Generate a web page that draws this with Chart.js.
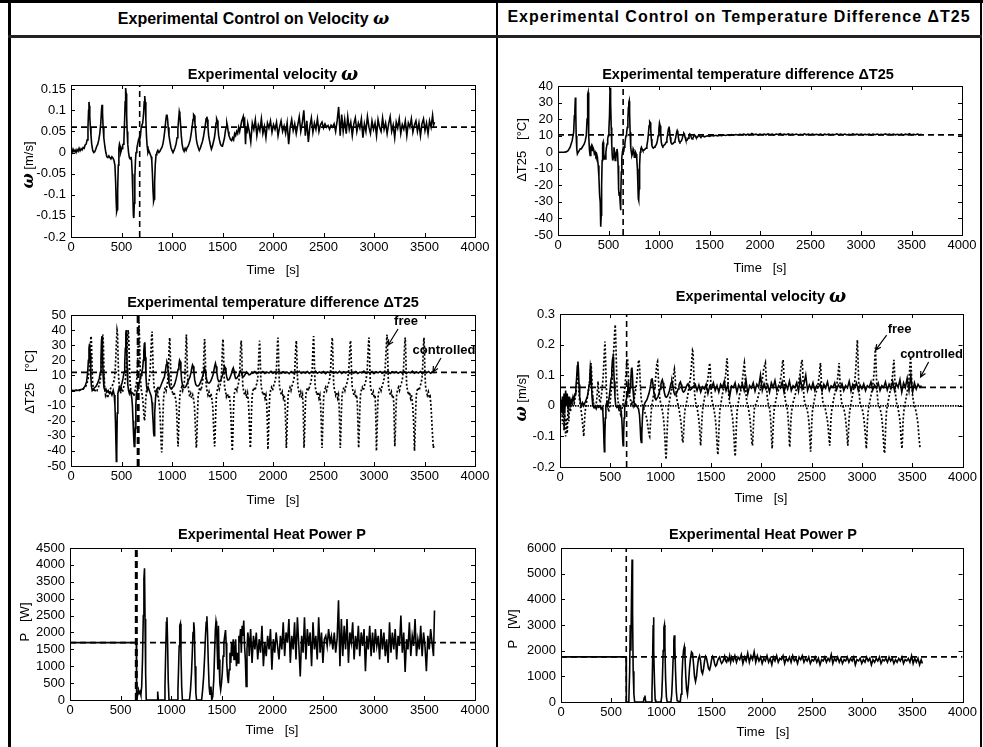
<!DOCTYPE html>
<html>
<head>
<meta charset="utf-8">
<script src="https://cdn.jsdelivr.net/npm/chart.js@4.4.1/dist/chart.umd.min.js"></script>
<style>
  body { margin: 0; background: #fff; }
  #page { position: relative; width: 983px; height: 747px; overflow: hidden; background: #fff;
          font-family: "Liberation Sans", Arial, sans-serif; }
  .rule { position: absolute; background: #000; }
  .head { position: absolute; top: 8px; font-weight: bold; font-size: 16px; text-align: center; white-space: nowrap; }
  .head i { font-family: "DejaVu Serif", serif; font-size: 17px; }
  canvas { position: absolute; }
</style>
</head>
<body>
<div id="page">
  <div class="rule" style="left:0;top:0;width:983px;height:3px"></div>
  <div class="rule" style="left:8px;top:0;width:3px;height:747px"></div>
  <div class="rule" style="left:496px;top:0;width:2px;height:747px"></div>
  <div class="rule" style="left:980px;top:0;width:2px;height:747px"></div>
  <div class="rule" style="left:8px;top:35px;width:974px;height:3px;background:#222"></div>
  <div class="head" style="left:11px;width:485px">Experimental Control on Velocity <i>ω</i></div>
  <div class="head" style="left:498px;width:482px;letter-spacing:1px">Experimental Control on Temperature Difference ΔT25</div>
  <canvas id="c1" width="486" height="245" style="left:11px;top:40px"></canvas>
  <canvas id="c2" width="480" height="245" style="left:500px;top:40px"></canvas>
  <canvas id="c3" width="486" height="232" style="left:11px;top:285px"></canvas>
  <canvas id="c4" width="480" height="232" style="left:500px;top:285px"></canvas>
  <canvas id="c5" width="486" height="230" style="left:11px;top:517px"></canvas>
  <canvas id="c6" width="480" height="230" style="left:500px;top:517px"></canvas>
</div>
<script>
// ---- tick values ----
const xTicks = [0, 500, 1000, 1500, 2000, 2500, 3000, 3500, 4000];
const omegaTicksA = [-0.2, -0.15, -0.1, -0.05, 0, 0.05, 0.1, 0.15];
const dT25TicksB = [-50, -40, -30, -20, -10, 0, 10, 20, 30, 40];
const dT25TicksA = [-50, -40, -30, -20, -10, 0, 10, 20, 30, 40, 50];
const omegaTicksB = [-0.2, -0.1, 0, 0.1, 0.2, 0.3];
const powerTicksA = [0, 500, 1000, 1500, 2000, 2500, 3000, 3500, 4000, 4500];
const powerTicksB = [0, 1000, 2000, 3000, 4000, 5000, 6000];

// ---- set points and switch-on times ----
const omegaSetA = 0.06, omegaSetB = 0.06;
const dT25SetA = 12, dT25SetB = 10.5;
const powerSetA = 1700, powerSetB = 1760;
const tOnOmega = [680, 665, 655];   // omega-controlled run: velocity, dT25, power
const tOnDT = [645, 662, 650];      // dT25-controlled run: dT25, velocity, power

// ---- velocity omega [m/s], run controlled on velocity ----
const omegaCtrlA = [
  [0,0.005],[10,0.0],[20,0.008],[30,0.002],[40,0.006],[50,0.0],[60,0.007],[70,0.003],[80,0.01],[90,0.004],
  [100,0.009],[110,0.006],[120,0.012],[130,0.01],[140,0.018],[150,0.02],[160,0.03],[168,0.06],[174,0.1],[178,0.12],
  [182,0.11],[186,0.085],[192,0.06],[198,0.04],[205,0.02],[215,0.005],[225,0.0],[235,0.002],[245,0.008],[255,0.015],
  [265,0.02],[275,0.03],[285,0.045],[295,0.07],[302,0.1],[307,0.113],[312,0.095],[318,0.06],[325,0.035],[335,0.015],
  [345,0.0],[355,-0.01],[365,-0.012],[375,-0.008],[385,-0.012],[395,-0.015],[405,-0.01],[415,-0.013],[425,-0.018],[435,-0.03],
  [442,-0.07],[448,-0.12],[452,-0.14],[457,-0.135],[462,-0.09],[468,-0.03],[474,0.01],[480,0.02],[486,0.015],[492,0.0],
  [498,0.005],[505,0.01],[512,0.018],[518,0.02],[524,0.03],[530,0.07],[536,0.12],[541,0.153],[546,0.14],[551,0.09],
  [556,0.05],[562,0.02],[570,0.0],[578,-0.012],[586,-0.015],[594,-0.01],[600,-0.02],[606,-0.05],[612,-0.1],[618,-0.15],
  [622,-0.155],[627,-0.12],[632,-0.06],[638,-0.02],[644,0.0],[652,0.01],[660,0.02],[668,0.03],[675,0.035],[680,0.03],
  [688,0.04],[695,0.06],[702,0.065],[710,0.07],[718,0.09],[725,0.12],[730,0.134],[735,0.12],[741,0.08],[747,0.04],
  [754,0.015],[762,0.0],[770,0.005],[778,0.0],[786,-0.005],[794,-0.01],[800,-0.02],[806,-0.05],[812,-0.09],[818,-0.115],
  [823,-0.11],[828,-0.07],[834,-0.03],[842,-0.005],[850,0.0],[860,0.005],[870,0.0],[880,0.003],[890,0.008],[900,0.012],
  [910,0.02],[920,0.035],[930,0.055],[938,0.075],[945,0.088],[950,0.09],[956,0.08],[962,0.06],[970,0.04],[980,0.025],
  [990,0.012],[1000,0.005],[1010,0.0],[1020,0.005],[1030,0.012],[1040,0.02],[1050,0.035],[1058,0.055],[1066,0.08],[1072,0.097],
  [1078,0.09],[1085,0.065],[1092,0.04],[1100,0.02],[1110,0.008],[1120,0.003],[1130,0.01],[1140,0.005],[1150,0.012],[1160,0.015],
  [1170,0.022],[1180,0.03],[1190,0.045],[1200,0.062],[1208,0.078],[1214,0.09],[1220,0.088],[1227,0.07],[1234,0.05],[1242,0.03],
  [1250,0.02],[1260,0.012],[1270,0.005],[1280,0.01],[1290,0.018],[1300,0.025],[1310,0.035],[1320,0.05],[1330,0.065],[1338,0.08],
  [1345,0.085],[1350,0.078],[1356,0.06],[1363,0.04],[1370,0.03],[1380,0.018],[1390,0.008],[1400,0.015],[1410,0.025],[1420,0.035],
  [1428,0.05],[1436,0.07],[1442,0.08],[1448,0.076],[1455,0.06],[1462,0.04],[1470,0.03],[1480,0.02],[1490,0.016],[1500,0.015],
  [1510,0.025],[1520,0.035],[1528,0.05],[1536,0.06],[1543,0.07],[1550,0.062],[1556,0.05],[1564,0.04],[1572,0.035],[1580,0.03],
  [1590,0.028],[1600,0.035],[1610,0.03],[1620,0.045],[1630,0.04],[1640,0.05],[1650,0.045],[1660,0.06],[1670,0.05],[1680,0.062],
  [1690,0.075],[1698,0.08],[1705,0.085],[1712,0.06],[1720,0.07],[1728,0.02],[1735,0.06],[1742,0.045],[1750,0.068],[1765,0.05],
  [1780,0.025],[1795,0.07],[1810,0.055],[1825,0.078],[1840,0.04],[1855,0.065],[1870,0.052],[1885,0.08],[1900,0.045],[1915,0.062],
  [1930,0.035],[1945,0.07],[1960,0.058],[1975,0.075],[1990,0.048],[2005,0.066],[2020,0.055],[2035,0.072],[2050,0.04],[2065,0.06],
  [2080,0.075],[2095,0.05],[2110,0.063],[2125,0.045],[2140,0.07],[2155,0.02],[2170,0.06],[2185,0.078],[2200,0.052],[2215,0.068],
  [2230,0.045],[2245,0.065],[2260,0.085],[2275,0.05],[2290,0.07],[2305,0.1],[2320,0.04],[2335,0.075],[2350,0.025],[2365,0.062],
  [2380,0.082],[2395,0.048],[2410,0.07],[2425,0.055],[2440,0.08],[2455,0.05],[2470,0.066],[2485,0.072],[2500,0.058],[2515,0.068],
  [2530,0.06],[2545,0.064],[2560,0.055],[2575,0.065],[2590,0.06],[2605,0.068],[2620,0.05],[2635,0.075],[2650,0.108],[2665,0.04],
  [2680,0.09],[2695,0.05],[2710,0.078],[2725,0.045],[2740,0.085],[2755,0.055],[2770,0.072],[2785,0.04],[2800,0.068],[2815,0.082],
  [2830,0.05],[2845,0.07],[2860,0.058],[2875,0.08],[2890,0.035],[2905,0.068],[2920,0.05],[2935,0.085],[2950,0.06],[2965,0.045],
  [2980,0.075],[2995,0.055],[3010,0.07],[3025,0.04],[3040,0.078],[3055,0.06],[3070,0.05],[3085,0.082],[3100,0.055],[3115,0.07],
  [3130,0.045],[3145,0.068],[3160,0.085],[3175,0.05],[3190,0.065],[3205,0.035],[3220,0.072],[3235,0.058],[3250,0.08],[3265,0.045],
  [3280,0.066],[3295,0.055],[3310,0.075],[3325,0.04],[3340,0.07],[3355,0.06],[3370,0.08],[3385,0.048],[3400,0.065],[3415,0.075],
  [3430,0.05],[3445,0.07],[3460,0.04],[3475,0.068],[3490,0.08],[3505,0.052],[3520,0.07],[3535,0.045],[3550,0.075],[3565,0.06],
  [3580,0.088],[3590,0.065],[3600,0.072]
];

// ---- temperature difference dT25 [°C], run controlled on dT25 ----
const dT25CtrlB = [
  [0,0],[20,0],[40,0],[60,0],[80,0.2],[100,1],[120,3],[140,7],[155,12],[162,22],[167,25],[172,33],[176,24],[180,10],
  [186,2],[192,-1],[200,0],[210,1],[220,2],[230,2],[240,3],[250,4],[260,5],[270,7],[280,10],[288,20],[294,35],[298,36],
  [302,25],[306,10],[312,1],[318,-2],[325,3],[332,4],[338,1],[345,3],[352,2],[360,-1],[368,0],[375,-2],[382,-1],[390,-3],
  [398,-8],[405,-15],[412,-26],[418,-30],[423,-45],[428,-38],[432,-20],[437,-5],[442,5],[447,6],[452,0],[457,-4],[462,-2],
  [468,-4],[474,0],[480,3],[486,5],[492,8],[498,10],[504,14],[510,22],[515,38],[519,39],[523,30],[527,15],[532,5],[537,-2],
  [542,-5],[548,-3],[554,3],[560,0],[566,-5],[572,-4],[578,0],[584,2],[590,-1],[595,-8],[600,-22],[605,-26],[610,-24],
  [615,-30],[619,-35],[623,-28],[627,-12],[632,-3],[638,0],[644,2],[650,0],[656,3],[662,5],[668,8],[674,10],[680,12],
  [686,15],[692,20],[697,27],[701,30],[705,31],[709,24],[714,12],[720,3],[726,0],[732,-2],[738,-1],[744,2],[750,1],
  [756,-3],[762,-2],[768,0],[774,-1],[780,-4],[786,-10],[791,-20],[795,-28],[799,-29],[803,-22],[808,-8],[814,0],[820,2],
  [826,3],[832,2],[840,1],[848,1],[856,1.5],[864,2],[872,2.5],[880,4],[888,7],[895,11],[902,16],[908,18.5],[913,18],
  [918,14],[924,8],[930,4],[936,3],[944,2.5],[952,3],[960,3.5],[968,4],[976,5],[984,7],[992,10],[999,14],[1005,17.5],
  [1011,16],[1017,11],[1023,6],[1030,4],[1038,3.5],[1046,4],[1054,4.5],[1062,5],[1070,6],[1078,8],[1086,11],[1093,14],
  [1099,15.5],[1105,13],[1111,9],[1118,6],[1126,5],[1134,5],[1142,5.5],[1150,6],[1158,7],[1166,9],[1173,11.5],[1180,13],
  [1186,12],[1192,9],[1199,6.5],[1207,6],[1215,6.5],[1223,7],[1231,8.5],[1239,10.5],[1246,11.5],[1252,11],[1258,9],
  [1265,7.5],[1273,7],[1281,7.5],[1289,8.5],[1297,10],[1305,11],[1312,10.5],[1319,9],[1327,8],[1335,8.5],[1343,9.5],
  [1351,10.5],[1358,10],[1366,9],[1374,8.7],[1382,9.2],[1390,10],[1398,10.2],[1406,9.5],[1414,9.1],[1422,9.4],[1430,10],
  [1440,9.6],[1450,9.3],[1460,9.5],[1480,9.9],[1500,9.6],[1520,10.1],[1540,9.8],[1560,10.2],[1580,9.9],[1600,10.3],
  [1620,10.0],[1640,10.4],[1660,10.1],[1680,10.5],[1700,10.2],[1720,10.6],[1740,10.3],[1760,10.7],[1780,10.4],[1800,10.8],
  [1820,10.5],[1840,11.0],[1860,10.4],[1880,10.9],[1900,10.5],[1920,11.3],[1940,10.6],[1960,10.9],[1980,10.4],[2000,11.0],
  [2020,10.6],[2040,10.9],[2060,10.5],[2080,11.1],[2100,10.6],[2120,10.9],[2140,10.4],[2160,11.0],[2180,10.7],[2200,11.2],
  [2220,10.5],[2240,10.9],[2260,10.6],[2280,11.1],[2300,10.5],[2320,10.9],[2340,10.6],[2360,11.0],[2380,10.4],[2400,10.8],
  [2420,10.6],[2440,11.1],[2460,10.5],[2480,10.9],[2500,10.6],[2520,11.0],[2540,10.5],[2560,10.8],[2580,10.6],[2600,11.0],
  [2620,10.4],[2640,10.9],[2660,10.6],[2680,11.0],[2700,10.5],[2720,10.8],[2740,10.6],[2760,11.1],[2780,10.5],[2800,10.9],
  [2820,10.6],[2840,11.0],[2860,10.4],[2880,10.8],[2900,10.6],[2920,11.1],[2940,10.5],[2960,10.9],[2980,10.6],[3000,11.0],
  [3020,10.5],[3040,10.8],[3060,10.6],[3080,11.0],[3100,10.4],[3120,10.9],[3140,10.6],[3160,11.0],[3180,10.5],[3200,10.8],
  [3220,10.6],[3240,11.1],[3260,10.5],[3280,10.9],[3300,10.6],[3320,11.0],[3340,10.5],[3360,10.8],[3380,10.6],[3400,11.0],
  [3420,10.4],[3440,10.9],[3460,10.6],[3480,11.2],[3500,10.5],[3520,10.8],[3540,10.6],[3560,11.0],[3580,10.5],[3600,10.8]
];

// ---- dT25 [°C] in the velocity-controlled run: free vs controlled ----
const dT25FreeA = [
  [0,0],[20,0],[40,0],[60,0.5],[80,0],[100,0.5],[120,1],[140,2],[155,4],[168,7],[178,12],[186,20],[192,30],[197,36],
  [202,34],[207,20],[213,6],[220,2],[232,-1],[245,1],[258,0],[270,2],[282,4],[292,8],[300,15],[306,25],[311,33],[316,37],
  [321,30],[327,12],[334,2],[342,-3],[352,-1],[362,-5],[372,-2],[384,0],[396,2],[408,3],[420,5],[430,8],[438,14],[445,24],
  [451,34],[456,40],[461,38],[466,22],[472,8],[480,2],[490,-2],[500,1],[510,-1],[520,2],[530,4],[540,8],[548,16],[555,26],
  [561,36],[567,40],[573,32],[579,16],[586,4],[594,0],[604,-3],[614,-1],[624,-4],[634,0],[642,3],[650,6],[657,14],[663,26],
  [668,38],[673,45],[678,36],[684,18],[690,5],[697,0],[705,-3],[713,-8],[720,-14],[727,-20],[733,-17],[740,-6],[748,0],
  [756,2],[764,4],[772,6],[780,10],[787,18],[793,28],[798,36],[803,39],[808,28],[814,12],[821,3],[830,0],[840,-2],[850,-3],
  [858,-1],[866,-5],[874,-9],[882,-16],[888,-26],[893,-36],[898,-41],[903,-35],[909,-20],[916,-6],[924,0],[933,2],[942,0],
  [950,3],[957,6],[963,12],[968,22],[973,31],[977,35],[981,30],[986,16],[992,4],[1000,0],[1010,-3],[1020,-1],[1030,-4],
  [1038,-6],[1045,-12],[1051,-22],[1056,-32],[1060,-37],[1064,-30],[1070,-15],[1077,-4],[1085,0],[1095,2],[1105,0],
  [1113,3],[1121,5],[1128,10],[1133,20],[1138,30],[1142,37],[1146,32],[1151,17],[1157,5],[1165,0],[1175,-4],[1185,-2],
  [1195,-5],[1205,-3],[1214,-6],[1222,-10],[1229,-20],[1235,-30],[1241,-38],[1246,-32],[1252,-16],[1259,-4],[1267,0],
  [1277,2],[1287,0],[1296,3],[1304,6],[1310,12],[1315,22],[1319,30],[1323,34],[1327,29],[1332,15],[1338,4],[1346,0],
  [1356,-3],[1366,-1],[1376,-5],[1386,-2],[1396,-6],[1404,-11],[1410,-21],[1416,-31],[1422,-37],[1427,-30],[1433,-14],
  [1440,-3],[1448,0],[1458,3],[1468,1],[1478,4],[1486,7],[1492,14],[1497,24],[1501,31],[1505,34],[1509,28],[1514,14],
  [1520,3],[1528,0],[1538,-4],[1548,-2],[1558,-5],[1568,-3],[1576,-8],[1583,-16],[1589,-28],[1594,-36],[1597,-40],
  [1602,-32],[1608,-15],[1615,-3],[1623,0],[1633,2],[1643,0],[1652,3],[1662,6],[1670,12],[1676,22],[1681,30],[1686,33],
  [1690,27],[1695,13],[1701,3],[1709,0],[1719,-3],[1729,-1],[1739,-5],[1748,-2],[1756,-7],[1763,-16],[1769,-28],[1773,-35],
  [1776,-38],[1781,-30],[1787,-14],[1794,-3],[1802,0],[1812,2],[1822,0],[1832,3],[1842,5],[1850,9],[1856,17],[1861,26],
  [1865,31],[1868,33],[1872,26],[1877,12],[1883,3],[1891,0],[1901,-3],[1911,-1],[1921,-5],[1930,-3],[1937,-8],[1943,-18],
  [1947,-30],[1950,-39],[1955,-30],[1961,-14],[1968,-3],[1976,0],[1986,2],[1996,0],[2006,3],[2016,5],[2026,8],[2034,14],
  [2040,24],[2045,32],[2049,35],[2053,29],[2058,14],[2064,3],[2072,0],[2082,-3],[2092,-1],[2102,-5],[2111,-3],[2118,-8],
  [2124,-18],[2129,-30],[2132,-38],[2137,-30],[2143,-14],[2150,-3],[2158,0],[2168,2],[2178,0],[2188,3],[2198,5],[2208,8],
  [2216,14],[2222,24],[2227,30],[2231,33],[2235,27],[2240,13],[2246,3],[2254,0],[2264,-3],[2274,-1],[2284,-5],[2292,-3],
  [2298,-9],[2302,-20],[2305,-31],[2307,-38],[2312,-30],[2318,-14],[2325,-3],[2333,0],[2343,2],[2353,0],[2363,3],[2373,5],
  [2382,8],[2389,15],[2394,25],[2398,32],[2402,36],[2406,30],[2411,15],[2417,3],[2425,0],[2435,-3],[2445,-1],[2455,-5],
  [2464,-3],[2471,-9],[2477,-19],[2481,-30],[2485,-38],[2490,-30],[2496,-14],[2503,-3],[2511,0],[2521,2],[2531,0],[2541,3],
  [2551,5],[2561,8],[2570,14],[2577,24],[2582,31],[2587,35],[2591,29],[2596,14],[2602,3],[2610,0],[2620,-3],[2630,-1],
  [2640,-5],[2648,-3],[2654,-9],[2659,-20],[2663,-31],[2666,-38],[2671,-30],[2677,-14],[2684,-3],[2692,0],[2702,2],[2712,0],
  [2722,3],[2732,5],[2742,8],[2751,14],[2758,24],[2763,30],[2768,33],[2772,27],[2777,13],[2783,3],[2791,0],[2801,-3],
  [2811,-1],[2821,-5],[2829,-3],[2835,-9],[2840,-20],[2844,-31],[2848,-38],[2853,-30],[2859,-14],[2866,-3],[2874,0],
  [2884,2],[2894,0],[2904,3],[2914,5],[2924,8],[2933,14],[2940,24],[2945,31],[2950,35],[2954,29],[2959,14],[2965,3],
  [2973,0],[2983,-3],[2993,-1],[3003,-5],[3010,-3],[3015,-10],[3019,-22],[3022,-33],[3024,-40],[3029,-31],[3035,-14],
  [3042,-3],[3050,0],[3060,2],[3070,0],[3080,3],[3090,5],[3100,8],[3110,14],[3118,24],[3124,32],[3129,37],[3133,30],
  [3138,15],[3144,3],[3152,0],[3162,-3],[3172,-1],[3182,-5],[3190,-3],[3196,-9],[3200,-20],[3203,-30],[3206,-37],
  [3211,-29],[3217,-13],[3224,-3],[3232,0],[3242,2],[3252,0],[3262,3],[3272,5],[3282,8],[3292,14],[3299,24],[3304,31],
  [3309,35],[3313,29],[3318,14],[3324,3],[3332,0],[3342,-3],[3352,-1],[3362,-5],[3370,-3],[3382,-9],[3392,-20],[3397,-31],
  [3401,-40],[3406,-31],[3412,-14],[3419,-3],[3427,0],[3437,2],[3447,0],[3457,3],[3467,5],[3476,9],[3483,17],[3488,27],
  [3492,33],[3495,35],[3499,28],[3504,13],[3510,3],[3518,0],[3528,-3],[3538,-1],[3548,-5],[3556,-4],[3564,-10],[3572,-20],
  [3580,-30],[3588,-38],[3592,-36]
];
const dT25CtrlA = [
  [0,0],[30,0],[60,0],[90,0.5],[120,1],[140,3],[155,6],[165,12],[172,20],[178,28],[184,31],[190,24],[196,10],[202,3],
  [210,0],[220,1],[235,2],[250,3],[265,5],[280,8],[290,12],[297,22],[302,33],[307,36],[312,25],[318,10],[326,2],[335,0],
  [345,1],[355,-1],[368,0],[380,-2],[392,-1],[405,-3],[418,0],[428,-3],[435,-10],[440,-20],[445,-35],[449,-47],[453,-40],
  [458,-15],[464,-2],[470,0],[478,2],[486,0],[495,3],[505,5],[515,8],[525,12],[532,18],[538,28],[543,38],[547,40],
  [551,30],[556,15],[562,4],[570,0],[578,-2],[586,0],[594,-2],[602,-5],[608,-10],[614,-20],[620,-30],[626,-37],[632,-36],
  [637,-25],[642,-10],[648,-2],[655,0],[662,2],[670,4],[678,6],[686,8],[694,10],[702,12],[710,15],[716,20],[721,26],
  [726,31],[731,32],[736,22],[742,10],[748,3],[755,0],[765,2],[775,0],[785,-2],[795,-4],[802,-8],[808,-15],[814,-22],
  [818,-28],[822,-30],[826,-27],[831,-15],[837,-5],[844,0],[852,1],[862,2],[875,1],[888,3],[900,5],[912,7],[925,9],
  [935,13],[943,17],[950,19],[956,18],[962,12],[970,5],[980,2],[992,1],[1005,2],[1018,3],[1030,5],[1042,8],[1052,11],
  [1060,14],[1068,17],[1075,20],[1082,19],[1088,14],[1095,7],[1105,3],[1115,2],[1128,2],[1140,3],[1152,5],[1165,7],
  [1178,9],[1188,12],[1196,15],[1203,17],[1210,16],[1217,12],[1225,7],[1235,4],[1247,3],[1260,3],[1272,4],[1285,6],
  [1296,8],[1306,10],[1315,13],[1322,15],[1330,13],[1338,9],[1347,6],[1358,5],[1370,5],[1382,6],[1394,8],[1405,10],
  [1414,13],[1422,16],[1430,18],[1437,16],[1444,12],[1452,8],[1462,6],[1472,6],[1483,7],[1494,9],[1504,11],[1513,14],
  [1520,16],[1527,15],[1534,12],[1542,9],[1551,7],[1561,7],[1571,8],[1582,10],[1592,12],[1600,14],[1607,15],[1614,13],
  [1621,10],[1630,8],[1640,8],[1650,9],[1660,10],[1670,12],[1678,13],[1686,12],[1694,10],[1703,9],[1713,9.5],[1723,10.5],
  [1733,11.5],[1742,12],[1750,11.5],[1760,10.5],[1770,10.5],[1780,11],[1790,12],[1800,11.5],[1820,12.5],[1840,11.2],
  [1860,12.3],[1880,11.5],[1900,12.6],[1920,11.3],[1940,12.2],[1960,11.6],[1980,12.7],[2000,11.4],[2020,12.3],[2040,11.7],
  [2060,12.8],[2080,11.3],[2100,12.4],[2120,11.6],[2140,12.2],[2160,11.2],[2180,12.6],[2200,11.5],[2220,12.3],[2240,11.7],
  [2260,12.7],[2280,11.4],[2300,12.2],[2320,11.6],[2340,12.5],[2360,11.3],[2380,12.4],[2400,11.7],[2420,12.8],[2440,11.4],
  [2460,12.3],[2480,11.6],[2500,12.5],[2520,11.2],[2540,12.3],[2560,11.7],[2580,12.6],[2600,11.4],[2620,12.2],[2640,11.6],
  [2660,12.7],[2680,11.3],[2700,12.4],[2720,11.7],[2740,12.5],[2760,11.4],[2780,12.3],[2800,11.6],[2820,12.6],[2840,11.3],
  [2860,12.2],[2880,11.7],[2900,12.8],[2920,11.4],[2940,12.3],[2960,11.6],[2980,12.5],[3000,11.2],[3020,12.4],[3040,11.7],
  [3060,12.6],[3080,11.4],[3100,12.2],[3120,11.6],[3140,12.7],[3160,11.3],[3180,12.4],[3200,11.7],[3220,12.5],[3240,11.4],
  [3260,12.3],[3280,11.6],[3300,12.6],[3320,11.3],[3340,12.2],[3360,11.7],[3380,12.8],[3400,11.4],[3420,12.3],[3440,11.6],
  [3460,12.5],[3480,11.2],[3500,12.4],[3520,11.7],[3540,12.6],[3560,11.4],[3580,12.3],[3600,11.8]
];

// ---- omega [m/s] in the dT25-controlled run: free vs controlled ----
const omegaFreeB = [
  [0,0],[8,-0.03],[16,0.02],[24,-0.06],[32,0.01],[40,-0.08],[48,-0.02],[56,-0.1],[64,-0.04],[72,-0.09],[80,0.0],
  [88,-0.05],[96,0.02],[104,-0.02],[112,0.01],[122,0.0],[132,0.02],[142,0.01],[152,0.03],[160,0.05],[168,0.08],[175,0.1],
  [181,0.09],[187,0.05],[194,0.02],[202,0.0],[212,-0.02],[222,-0.05],[230,-0.08],[236,-0.1],[242,-0.06],[249,-0.02],
  [258,0.0],[268,0.02],[278,0.04],[288,0.06],[296,0.09],[303,0.12],[308,0.14],[314,0.11],[320,0.06],[328,0.02],[337,0.0],
  [347,-0.01],[357,0.0],[365,0.02],[372,0.05],[378,0.08],[384,0.05],[392,0.02],[400,0.01],[410,0.03],[420,0.06],[430,0.1],
  [437,0.15],[443,0.19],[447,0.21],[452,0.16],[458,0.08],[465,0.03],[474,0.0],[484,-0.02],[494,0.0],[504,0.03],[514,0.07],
  [522,0.11],[530,0.16],[537,0.2],[543,0.24],[549,0.265],[554,0.22],[560,0.14],[567,0.06],[575,0.02],[584,0.0],[594,-0.02],
  [604,-0.03],[614,-0.01],[624,0.0],[634,0.03],[644,0.06],[652,0.09],[659,0.12],[665,0.15],[671,0.155],[677,0.12],[684,0.06],
  [692,0.03],[700,0.02],[708,0.0],[716,0.01],[726,0.0],[736,0.02],[746,0.04],[756,0.06],[765,0.09],[773,0.12],[780,0.145],
  [786,0.15],[792,0.12],[798,0.07],[805,0.03],[813,0.01],[822,0.0],[832,-0.01],[842,-0.02],[852,-0.03],[862,-0.04],
  [870,-0.06],[878,-0.08],[885,-0.095],[891,-0.1],[897,-0.07],[904,-0.03],[912,0.0],[922,0.02],[932,0.04],[942,0.06],
  [950,0.09],[957,0.12],[963,0.14],[969,0.145],[975,0.11],[982,0.06],[990,0.03],[999,0.01],[1009,0.0],[1019,-0.02],
  [1028,-0.04],[1036,-0.07],[1043,-0.11],[1049,-0.15],[1054,-0.175],[1059,-0.14],[1065,-0.08],[1072,-0.03],[1080,0.0],
  [1090,0.02],[1100,0.04],[1110,0.055],[1118,0.07],[1125,0.09],[1131,0.11],[1137,0.12],[1143,0.1],[1150,0.06],[1158,0.03],
  [1167,0.01],[1177,0.0],[1187,-0.02],[1196,-0.04],[1204,-0.06],[1211,-0.09],[1217,-0.115],[1222,-0.12],[1228,-0.09],
  [1235,-0.04],[1243,-0.01],[1252,0.0],[1262,0.02],[1272,0.04],[1282,0.06],[1291,0.08],[1299,0.1],[1306,0.13],[1312,0.16],
  [1317,0.18],[1322,0.175],[1327,0.13],[1333,0.07],[1340,0.03],[1349,0.01],[1359,0.0],[1369,-0.02],[1378,-0.04],
  [1386,-0.07],[1392,-0.1],[1397,-0.13],[1402,-0.11],[1408,-0.06],[1415,-0.02],[1423,0.0],[1433,0.02],[1443,0.04],
  [1453,0.05],[1462,0.07],[1470,0.09],[1477,0.11],[1483,0.13],[1488,0.14],[1493,0.12],[1499,0.07],[1506,0.03],[1514,0.01],
  [1524,0.0],[1534,-0.02],[1543,-0.04],[1551,-0.07],[1558,-0.11],[1564,-0.145],[1569,-0.16],[1574,-0.13],[1580,-0.07],
  [1587,-0.02],[1595,0.0],[1605,0.02],[1615,0.04],[1625,0.055],[1634,0.07],[1642,0.09],[1649,0.11],[1655,0.14],[1660,0.155],
  [1665,0.13],[1671,0.07],[1678,0.03],[1686,0.01],[1696,0.0],[1706,-0.02],[1715,-0.04],[1723,-0.07],[1730,-0.11],
  [1736,-0.15],[1741,-0.165],[1746,-0.13],[1752,-0.07],[1759,-0.02],[1767,0.0],[1777,0.02],[1787,0.04],[1797,0.05],
  [1806,0.07],[1814,0.09],[1821,0.11],[1827,0.13],[1832,0.14],[1837,0.12],[1843,0.07],[1850,0.03],[1858,0.01],[1868,0.0],
  [1878,-0.02],[1887,-0.04],[1895,-0.07],[1902,-0.1],[1908,-0.125],[1913,-0.13],[1918,-0.1],[1924,-0.05],[1931,-0.01],
  [1939,0.0],[1951,0.01],[1963,0.02],[1975,0.04],[1987,0.05],[1997,0.065],[2007,0.08],[2016,0.1],[2024,0.12],[2032,0.13],
  [2041,0.14],[2046,0.11],[2052,0.07],[2059,0.03],[2067,0.01],[2077,0.0],[2087,-0.02],[2094,-0.05],[2100,-0.09],[2104,-0.12],
  [2108,-0.14],[2113,-0.11],[2119,-0.06],[2126,-0.02],[2134,0.0],[2146,0.02],[2158,0.04],[2170,0.05],[2180,0.07],[2190,0.085],
  [2198,0.1],[2205,0.12],[2211,0.14],[2217,0.15],[2222,0.12],[2228,0.07],[2235,0.03],[2243,0.01],[2253,0.0],[2262,-0.02],
  [2269,-0.05],[2275,-0.09],[2279,-0.12],[2283,-0.135],[2288,-0.1],[2294,-0.05],[2301,-0.02],[2310,0.0],[2322,0.02],
  [2334,0.03],[2346,0.05],[2357,0.06],[2368,0.075],[2378,0.09],[2387,0.11],[2395,0.13],[2401,0.145],[2406,0.15],[2411,0.12],
  [2417,0.07],[2424,0.03],[2432,0.01],[2442,0.0],[2454,-0.01],[2466,-0.03],[2475,-0.06],[2482,-0.1],[2486,-0.13],[2490,-0.15],
  [2495,-0.12],[2501,-0.06],[2508,-0.02],[2517,0.0],[2528,0.02],[2540,0.04],[2551,0.05],[2561,0.065],[2570,0.085],[2577,0.1],
  [2583,0.125],[2588,0.14],[2593,0.11],[2599,0.065],[2606,0.03],[2614,0.01],[2624,0.0],[2636,-0.01],[2648,-0.03],[2658,-0.05],
  [2667,-0.08],[2674,-0.11],[2680,-0.13],[2685,-0.1],[2691,-0.05],[2698,-0.02],[2707,0.0],[2718,0.02],[2730,0.04],[2741,0.055],
  [2751,0.07],[2759,0.09],[2766,0.115],[2773,0.14],[2778,0.11],[2784,0.065],[2791,0.03],[2799,0.01],[2809,0.0],[2821,-0.01],
  [2833,-0.03],[2843,-0.06],[2851,-0.09],[2856,-0.115],[2860,-0.13],[2865,-0.1],[2871,-0.05],[2878,-0.02],[2887,0.0],
  [2898,0.02],[2910,0.04],[2920,0.06],[2929,0.08],[2937,0.11],[2944,0.15],[2950,0.19],[2955,0.215],[2960,0.17],[2966,0.1],
  [2973,0.04],[2981,0.01],[2991,0.0],[3003,-0.01],[3015,-0.03],[3025,-0.06],[3033,-0.09],[3039,-0.12],[3044,-0.14],
  [3049,-0.11],[3055,-0.05],[3062,-0.02],[3071,0.0],[3082,0.02],[3094,0.04],[3104,0.06],[3113,0.08],[3121,0.11],[3128,0.15],
  [3134,0.19],[3139,0.15],[3145,0.09],[3152,0.04],[3160,0.01],[3170,0.0],[3182,-0.01],[3194,-0.03],[3204,-0.06],[3212,-0.1],
  [3218,-0.13],[3222,-0.15],[3226,-0.155],[3231,-0.12],[3237,-0.06],[3244,-0.02],[3253,0.0],[3264,0.02],[3276,0.04],
  [3287,0.06],[3297,0.08],[3305,0.1],[3312,0.13],[3318,0.15],[3323,0.12],[3329,0.07],[3336,0.03],[3344,0.01],[3354,0.0],
  [3365,-0.02],[3375,-0.04],[3383,-0.07],[3390,-0.11],[3395,-0.13],[3398,-0.14],[3403,-0.11],[3409,-0.05],[3416,-0.02],
  [3425,0.0],[3436,0.02],[3447,0.04],[3457,0.06],[3466,0.08],[3473,0.11],[3479,0.14],[3484,0.16],[3489,0.13],[3495,0.08],
  [3502,0.04],[3510,0.02],[3520,0.0],[3532,-0.01],[3544,-0.03],[3554,-0.05],[3562,-0.08],[3569,-0.11],[3575,-0.13],[3580,-0.14]
];
const omegaCtrlB = [
  [0,0],[8,0.02],[16,-0.02],[24,0.03],[32,-0.03],[40,0.04],[48,-0.02],[56,0.05],[64,0.0],[72,0.04],[80,-0.01],[90,0.03],
  [100,0.0],[110,0.02],[120,0.01],[130,0.03],[140,0.02],[150,0.04],[158,0.06],[165,0.09],[172,0.13],[178,0.145],[183,0.12],
  [189,0.07],[196,0.03],[204,0.01],[214,0.0],[225,0.01],[236,0.0],[248,0.01],[260,0.02],[272,0.03],[282,0.05],[290,0.07],
  [297,0.1],[302,0.13],[307,0.12],[312,0.08],[318,0.03],[326,0.0],[336,-0.005],[348,0.0],[360,-0.01],[372,0.0],[384,-0.005],
  [396,0.0],[408,-0.01],[418,-0.005],[426,-0.02],[432,-0.06],[437,-0.12],[441,-0.15],[445,-0.11],[450,-0.04],[456,0.0],
  [464,0.01],[472,0.0],[480,0.01],[490,0.03],[500,0.06],[508,0.09],[515,0.12],[521,0.15],[527,0.16],[533,0.13],[539,0.08],
  [546,0.03],[554,0.0],[564,-0.005],[574,0.0],[584,-0.01],[594,0.0],[604,-0.01],[612,-0.03],[618,-0.07],[623,-0.11],
  [627,-0.13],[632,-0.1],[637,-0.04],[643,0.0],[650,0.01],[658,0.02],[666,0.03],[674,0.06],[680,0.08],[686,0.05],[692,0.04],
  [698,0.06],[704,0.09],[710,0.12],[715,0.125],[720,0.1],[726,0.05],[733,0.02],[741,0.0],[750,0.005],[760,0.0],[770,-0.005],
  [780,-0.01],[790,-0.03],[797,-0.07],[803,-0.11],[808,-0.12],[813,-0.09],[819,-0.04],[826,-0.005],[834,0.0],[844,0.01],
  [854,0.015],[864,0.02],[874,0.03],[884,0.04],[894,0.055],[902,0.07],[908,0.085],[914,0.09],[920,0.08],[927,0.06],[935,0.04],
  [944,0.025],[954,0.02],[964,0.025],[974,0.03],[984,0.04],[994,0.055],[1003,0.07],[1010,0.08],[1017,0.085],[1024,0.075],
  [1031,0.055],[1039,0.04],[1048,0.03],[1058,0.028],[1068,0.032],[1078,0.04],[1088,0.05],[1097,0.065],[1105,0.075],
  [1112,0.08],[1119,0.07],[1126,0.055],[1134,0.042],[1143,0.036],[1153,0.038],[1163,0.045],[1173,0.055],[1182,0.066],
  [1190,0.074],[1197,0.078],[1204,0.07],[1211,0.058],[1219,0.048],[1228,0.045],[1238,0.048],[1248,0.055],[1257,0.064],
  [1265,0.07],[1272,0.072],[1279,0.065],[1287,0.056],[1296,0.052],[1306,0.055],[1316,0.06],[1326,0.063],[1344,0.07],
  [1362,0.05],[1380,0.068],[1398,0.045],[1416,0.062],[1434,0.055],[1452,0.07],[1470,0.04],[1488,0.065],[1506,0.058],
  [1524,0.075],[1542,0.05],[1560,0.066],[1578,0.045],[1596,0.07],[1614,0.06],[1632,0.08],[1650,0.05],[1668,0.068],
  [1686,0.03],[1704,0.065],[1722,0.06],[1740,0.075],[1758,0.045],[1776,0.068],[1794,0.055],[1812,0.072],[1830,0.05],
  [1848,0.085],[1866,0.04],[1884,0.066],[1902,0.058],[1920,0.075],[1938,0.048],[1956,0.07],[1974,0.06],[1992,0.1],
  [2010,0.05],[2028,0.072],[2046,0.055],[2064,0.068],[2082,0.045],[2100,0.075],[2118,0.06],[2136,0.082],[2154,0.05],
  [2172,0.066],[2190,0.058],[2208,0.078],[2226,0.045],[2244,0.07],[2262,0.055],[2280,0.08],[2298,0.05],[2316,0.066],
  [2334,0.06],[2352,0.075],[2370,0.048],[2388,0.09],[2406,0.055],[2424,0.072],[2442,0.1],[2460,0.05],[2478,0.068],
  [2496,0.055],[2514,0.075],[2532,0.05],[2550,0.066],[2568,0.06],[2586,0.072],[2604,0.048],[2622,0.07],[2640,0.058],
  [2658,0.078],[2676,0.05],[2694,0.065],[2712,0.06],[2730,0.075],[2748,0.052],[2766,0.068],[2784,0.06],[2802,0.072],
  [2820,0.05],[2838,0.066],[2856,0.058],[2874,0.08],[2892,0.048],[2910,0.07],[2928,0.06],[2946,0.075],[2964,0.05],
  [2982,0.068],[3000,0.056],[3018,0.072],[3036,0.05],[3054,0.066],[3072,0.06],[3090,0.078],[3108,0.052],[3126,0.068],
  [3144,0.058],[3162,0.074],[3180,0.05],[3198,0.066],[3216,0.06],[3234,0.078],[3252,0.052],[3270,0.07],[3288,0.056],
  [3306,0.08],[3324,0.05],[3342,0.072],[3360,0.06],[3378,0.085],[3396,0.045],[3414,0.075],[3432,0.06],[3450,0.09],
  [3468,0.05],[3486,0.098],[3504,0.045],[3522,0.075],[3540,0.055],[3558,0.07],[3576,0.06],[3592,0.066]
];

// ---- heat power P [W] ----
const powerCtrlA = [
  [0,1700],[655,1700],[658,0],[668,150],[676,300],[684,200],[692,250],[700,150],[708,400],[716,1200],[724,2500],[730,3600],
  [736,3900],[741,2400],[747,800],[753,0],[860,0],[866,250],[872,0],[930,0],[938,400],[945,1400],[952,2300],[958,2450],
  [964,1700],[970,600],[978,0],[1060,0],[1066,300],[1072,900],[1078,1600],[1084,2200],[1090,2260],[1096,1400],[1103,400],
  [1110,0],[1180,0],[1190,300],[1200,800],[1208,1400],[1215,2000],[1222,2300],[1228,2100],[1235,1000],[1243,200],[1250,0],
  [1300,0],[1310,300],[1320,700],[1330,1300],[1338,1900],[1345,2300],[1352,2480],[1358,2000],[1366,1100],[1374,400],
  [1382,150],[1392,400],[1400,0],[1410,100],[1420,600],[1428,1400],[1436,2100],[1442,2330],[1448,2200],[1454,1500],
  [1460,900],[1466,2200],[1472,1200],[1480,500],[1488,300],[1496,500],[1504,800],[1512,1300],[1520,1700],[1528,1900],
  [1536,2070],[1542,1700],[1548,1100],[1556,700],[1564,500],[1572,900],[1580,1400],[1588,1100],[1596,1700],[1604,1300],
  [1612,1800],[1620,1200],[1628,1500],[1636,1800],[1644,1000],[1652,1400],[1660,1100],[1668,1900],[1676,1700],[1684,2100],
  [1692,1400],[1700,2200],[1708,1900],[1716,2350],[1724,1600],[1732,1200],[1740,400],[1748,1500],[1756,2000],[1764,1800],
  [1770,1300],[1784,2100],[1798,1100],[1812,1900],[1826,1500],[1840,2000],[1854,1200],[1868,1800],[1882,1400],[1896,2200],
  [1910,1000],[1924,1700],[1938,1300],[1952,1900],[1966,1500],[1980,2100],[1994,900],[2008,1800],[2022,1400],[2036,2000],
  [2050,1600],[2064,1200],[2078,1900],[2092,1500],[2106,2300],[2120,1300],[2134,2000],[2148,1700],[2162,2400],[2176,1100],
  [2190,1900],[2204,1500],[2218,2300],[2232,1200],[2246,2450],[2260,1600],[2274,700],[2288,1900],[2302,1400],[2316,2450],
  [2330,1200],[2344,2100],[2358,1600],[2372,2000],[2386,1000],[2400,2300],[2414,1500],[2428,1900],[2442,1200],[2456,2450],
  [2470,1400],[2484,2000],[2498,1100],[2512,1800],[2526,1900],[2540,1600],[2554,2100],[2568,1700],[2582,1900],[2596,1500],
  [2610,2000],[2624,1400],[2638,1800],[2652,2950],[2666,1000],[2680,2400],[2694,1300],[2708,2200],[2722,1500],[2736,2400],
  [2750,1100],[2764,2000],[2778,1700],[2792,2300],[2806,1200],[2820,1900],[2834,1500],[2848,2200],[2862,1300],[2876,2000],
  [2890,1600],[2904,2100],[2918,850],[2932,1900],[2946,1500],[2960,2200],[2974,1300],[2988,2000],[3002,1400],[3016,2100],
  [3030,1600],[3044,1900],[3058,1200],[3072,2100],[3086,1500],[3100,2000],[3114,1300],[3128,1800],[3142,1100],[3156,2300],
  [3170,1400],[3184,2000],[3198,1500],[3212,2100],[3226,1200],[3240,1900],[3254,1600],[3268,2500],[3282,1400],[3296,2000],
  [3310,830],[3324,1800],[3338,1500],[3352,2300],[3366,1300],[3380,1900],[3394,1600],[3408,2400],[3422,1300],[3436,1800],
  [3450,1500],[3464,2200],[3478,1300],[3492,2000],[3506,1600],[3520,850],[3534,1900],[3548,1500],[3562,2100],[3576,1700],
  [3590,1300],[3600,2650]
];
const powerCtrlB = [
  [0,1760],[648,1760],[651,0],[668,0],[676,100],[684,1200],[690,3000],[696,2000],[702,4000],[708,5550],[713,3500],
  [719,1200],[726,300],[734,0],[820,0],[828,150],[836,250],[844,0],[900,0],[906,300],[912,1500],[918,3000],[921,3300],
  [926,2000],[932,700],[938,100],[944,0],[995,0],[1003,200],[1010,900],[1018,2000],[1025,2900],[1030,3000],[1035,2200],
  [1042,900],[1050,200],[1058,0],[1095,0],[1103,300],[1110,900],[1117,1700],[1124,2400],[1129,2600],[1134,2200],[1141,1200],
  [1149,400],[1157,50],[1188,0],[1196,300],[1204,900],[1212,1600],[1220,2000],[1228,2150],[1235,1800],[1243,1000],[1251,500],
  [1260,300],[1270,700],[1280,1300],[1290,1700],[1300,1950],[1310,1900],[1320,1500],[1330,1000],[1340,800],[1350,1000],
  [1360,1400],[1370,1700],[1380,1800],[1390,1600],[1400,1200],[1410,1100],[1420,1300],[1430,1600],[1440,1780],[1450,1700],
  [1460,1500],[1470,1300],[1480,1250],[1490,1400],[1500,1650],[1510,1780],[1520,1700],[1530,1500],[1540,1400],[1550,1450],
  [1560,1600],[1570,1700],[1580,1750],[1590,1600],[1600,1500],[1610,1550],[1620,1650],[1630,1780],[1640,1600],[1650,1550],
  [1660,1700],[1670,1620],[1680,1800],[1690,1550],[1700,1750],[1716,1600],[1732,1800],[1748,1550],[1764,1750],[1780,1650],
  [1796,1850],[1812,1500],[1828,1750],[1844,1600],[1860,1900],[1876,1550],[1892,1800],[1908,1650],[1924,1950],[1940,1550],
  [1956,1800],[1972,1600],[1988,1750],[2004,1500],[2020,1700],[2036,1600],[2052,1800],[2068,1550],[2084,1700],[2100,1450],
  [2116,1750],[2132,1600],[2148,1800],[2164,1550],[2180,1700],[2196,1650],[2212,1800],[2228,1500],[2244,1700],[2260,1600],
  [2276,1750],[2292,1550],[2308,1800],[2324,1600],[2340,1700],[2356,1500],[2372,1750],[2388,1650],[2404,1800],[2420,1550],
  [2436,1700],[2452,1600],[2468,1750],[2484,1500],[2500,1650],[2516,1600],[2532,1750],[2548,1550],[2564,1700],[2580,1450],
  [2596,1650],[2612,1600],[2628,1750],[2644,1550],[2660,1700],[2676,1600],[2692,1850],[2708,1500],[2724,1700],[2740,1600],
  [2756,1750],[2772,1550],[2788,1700],[2804,1500],[2820,1650],[2836,1600],[2852,1750],[2868,1550],[2884,1700],[2900,1600],
  [2916,1750],[2932,1450],[2948,1650],[2964,1600],[2980,1700],[2996,1500],[3012,1650],[3028,1550],[3044,1750],[3060,1600],
  [3076,1700],[3092,1450],[3108,1650],[3124,1550],[3140,1700],[3156,1600],[3172,1750],[3188,1500],[3204,1650],[3220,1600],
  [3236,1700],[3252,1550],[3268,1750],[3284,1600],[3300,1700],[3316,1500],[3332,1650],[3348,1550],[3364,1700],[3380,1600],
  [3396,1750],[3412,1500],[3428,1650],[3444,1600],[3460,1700],[3476,1550],[3492,1800],[3508,1500],[3524,1700],[3540,1550],
  [3556,1700],[3572,1450],[3588,1650],[3600,1500]
];

// ---- drawing ----
const FONT = '"Liberation Sans", Arial, sans-serif';
const OMEGA_FONT = 'italic bold 16px "DejaVu Serif", serif';
const TITLE_FONT = 'bold 14.5px ' + FONT;
const NOTE_FONT = 'bold 13px ' + FONT;
const LABEL_FONT = '13px ' + FONT;

const pts = arr => arr.map(([x, y]) => ({ x, y }));
const fmt = v => String(+v.toFixed(2));

const solid = (data) => ({ data: pts(data), borderWidth: 1.6, borderDash: [] });
const dotted = (data) => ({ data: pts(data), borderWidth: 1.7, borderDash: [2, 2] });
const hSet = (v) => ({ data: pts([[0, v], [4000, v]]), borderWidth: 1.7, borderDash: [6, 4] });
const vOn = (t, lo, hi, w) => ({ data: pts([[t, lo], [t, hi]]), borderWidth: w, borderDash: w > 2 ? [7, 4] : [6, 4] });

function richText(ctx, parts, x, y, vertical) {
  ctx.save();
  ctx.translate(x, y);
  if (vertical) ctx.rotate(-Math.PI / 2);
  ctx.textBaseline = 'middle';
  ctx.textAlign = 'left';
  ctx.fillStyle = '#000';
  const widths = parts.map(([t, f]) => { ctx.font = f; return ctx.measureText(t).width; });
  let cx = -widths.reduce((a, b) => a + b, 0) / 2;
  parts.forEach(([t, f], i) => { ctx.font = f; ctx.fillText(t, cx, 0); cx += widths[i]; });
  ctx.restore();
}

function arrow(ctx, x1, y1, x2, y2) {
  const a = Math.atan2(y2 - y1, x2 - x1), h = 6;
  ctx.beginPath();
  ctx.moveTo(x1, y1); ctx.lineTo(x2, y2);
  ctx.moveTo(x2 - h * Math.cos(a - 0.45), y2 - h * Math.sin(a - 0.45));
  ctx.lineTo(x2, y2);
  ctx.lineTo(x2 - h * Math.cos(a + 0.45), y2 - h * Math.sin(a + 0.45));
  ctx.stroke();
}

// box with inward ticks, captions and arrow notes, MATLAB style
const panelDecor = {
  id: 'panelDecor',
  afterDraw(chart, args, opts) {
    const { ctx, chartArea: a, scales: { x, y } } = chart;
    ctx.save();
    ctx.strokeStyle = '#000';
    ctx.lineWidth = 1;
    ctx.strokeRect(Math.round(a.left) + 0.5, Math.round(a.top) + 0.5,
                   Math.round(a.right - a.left), Math.round(a.bottom - a.top));
    ctx.beginPath();
    x.ticks.forEach(t => {
      const px = Math.round(x.getPixelForValue(t.value)) + 0.5;
      ctx.moveTo(px, a.bottom); ctx.lineTo(px, a.bottom - 4);
      ctx.moveTo(px, a.top); ctx.lineTo(px, a.top + 4);
    });
    y.ticks.forEach(t => {
      const py = Math.round(y.getPixelForValue(t.value)) + 0.5;
      ctx.moveTo(a.left, py); ctx.lineTo(a.left + 4, py);
      ctx.moveTo(a.right, py); ctx.lineTo(a.right - 4, py);
    });
    ctx.stroke();

    const [ox, oy] = opts.origin;
    richText(ctx, opts.title, opts.titlePos[0] - ox, opts.titlePos[1] - oy, false);
    richText(ctx, [['Time   [s]', LABEL_FONT]], opts.xTitlePos[0] - ox, opts.xTitlePos[1] - oy, false);
    richText(ctx, opts.yTitle, opts.yTitlePos[0] - ox, opts.yTitlePos[1] - oy, true);

    (opts.notes || []).forEach(n => {
      richText(ctx, [[n.text, NOTE_FONT]], x.getPixelForValue(n.at[0]), y.getPixelForValue(n.at[1]), false);
      ctx.lineWidth = 1.2;
      arrow(ctx, x.getPixelForValue(n.from[0]), y.getPixelForValue(n.from[1]),
                 x.getPixelForValue(n.to[0]), y.getPixelForValue(n.to[1]));
    });
    ctx.restore();
  }
};

function panel(id, cfg) {
  const el = document.getElementById(id);
  const left = parseInt(el.style.left), top = parseInt(el.style.top);
  const [L, T, R, B] = cfg.area;
  const yW = 45, xH = 20;
  new Chart(el, {
    type: 'line',
    data: {
      datasets: cfg.series.map(s => Object.assign({
        borderColor: '#000', pointRadius: 0, fill: false, tension: 0, borderCapStyle: 'butt'
      }, s))
    },
    options: {
      responsive: false,
      animation: false,
      events: [],
      layout: { padding: { left: L - left - yW, top: T - top, right: left + el.width - R, bottom: top + el.height - B - xH } },
      plugins: {
        legend: { display: false },
        tooltip: { enabled: false },
        panelDecor: Object.assign({ origin: [left, top] }, cfg)
      },
      scales: {
        x: {
          type: 'linear', min: 0, max: 4000,
          grid: { display: false, drawTicks: false }, border: { display: false },
          afterBuildTicks: s => { s.ticks = xTicks.map(v => ({ value: v })); },
          afterFit: s => { s.height = xH; },
          ticks: { autoSkip: false, maxRotation: 0, padding: 3, color: '#000',
                   font: { family: FONT, size: 13 }, callback: v => String(v) }
        },
        y: {
          type: 'linear', min: cfg.range[0], max: cfg.range[1],
          grid: { display: false, drawTicks: false }, border: { display: false },
          afterBuildTicks: s => { s.ticks = cfg.ticks.map(v => ({ value: v })); },
          afterFit: s => { s.width = yW; },
          ticks: { autoSkip: false, padding: 5, color: '#000', font: { family: FONT, size: 13 }, callback: v => fmt(v) }
        }
      }
    },
    plugins: [panelDecor]
  });
}

const omegaYTitle = [['ω', OMEGA_FONT], [' [m/s]', LABEL_FONT]];
const dT25YTitle = [['ΔT25   [°C]', LABEL_FONT]];
const powerYTitle = [['P   [W]', LABEL_FONT]];
const omegaTitle = [['Experimental velocity ', TITLE_FONT], ['ω', 'italic bold 18px "DejaVu Serif", serif']];
const dT25Title = [['Experimental temperature difference ΔT25', TITLE_FONT]];
const powerTitle = [['Experimental Heat Power P', TITLE_FONT]];

panel('c1', {
  area: [71, 85, 475, 237], range: [-0.2, 0.16], ticks: omegaTicksA,
  title: omegaTitle, titlePos: [273, 75], xTitlePos: [273, 270], yTitle: omegaYTitle, yTitlePos: [29, 165],
  series: [hSet(omegaSetA), solid(omegaCtrlA), vOn(tOnOmega[0], -0.2, 0.16, 1.6)]
});
panel('c2', {
  area: [558, 86, 962, 235], range: [-50, 40], ticks: dT25TicksB,
  title: dT25Title, titlePos: [748, 75], xTitlePos: [760, 268], yTitle: dT25YTitle, yTitlePos: [522, 150],
  series: [hSet(dT25SetB), solid(dT25CtrlB), vOn(tOnDT[0], -50, 40, 1.6)]
});
panel('c3', {
  area: [71, 315, 475, 466], range: [-50, 50], ticks: dT25TicksA,
  title: dT25Title, titlePos: [273, 303], xTitlePos: [273, 500], yTitle: dT25YTitle, yTitlePos: [30, 382],
  series: [hSet(dT25SetA), dotted(dT25FreeA), solid(dT25CtrlA), vOn(tOnOmega[1], -50, 50, 3)],
  notes: [
    { text: 'free', at: [3317, 46], from: [3238, 40.7], to: [3139, 30] },
    { text: 'controlled', at: [3693, 26.8], from: [3663, 21.5], to: [3584, 12.3] }
  ]
});
panel('c4', {
  area: [560, 314, 963, 467], range: [-0.2, 0.3], ticks: omegaTicksB,
  title: omegaTitle, titlePos: [761, 297], xTitlePos: [761, 498], yTitle: omegaYTitle, yTitlePos: [522, 398],
  series: [
    { data: pts([[0, 0], [4000, 0]]), borderWidth: 1.8, borderDash: [1.5, 1] },
    hSet(omegaSetB), dotted(omegaFreeB), solid(omegaCtrlB), vOn(tOnDT[1], -0.2, 0.3, 1.6)
  ],
  notes: [
    { text: 'free', at: [3375, 0.251], from: [3246, 0.231], to: [3136, 0.182] },
    { text: 'controlled', at: [3692, 0.169], from: [3663, 0.143], to: [3583, 0.094] }
  ]
});
panel('c5', {
  area: [70, 548, 475, 700], range: [0, 4500], ticks: powerTicksA,
  title: powerTitle, titlePos: [272, 535], xTitlePos: [272, 730], yTitle: powerYTitle, yTitlePos: [25, 622],
  series: [hSet(powerSetA), solid(powerCtrlA), vOn(tOnOmega[2], 0, 4500, 3)]
});
panel('c6', {
  area: [561, 548, 965, 702], range: [0, 6000], ticks: powerTicksB,
  title: powerTitle, titlePos: [763, 535], xTitlePos: [763, 732], yTitle: powerYTitle, yTitlePos: [513, 629],
  series: [hSet(powerSetB), solid(powerCtrlB), vOn(tOnDT[2], 0, 6000, 1.6)]
});
</script>
</body>
</html>
